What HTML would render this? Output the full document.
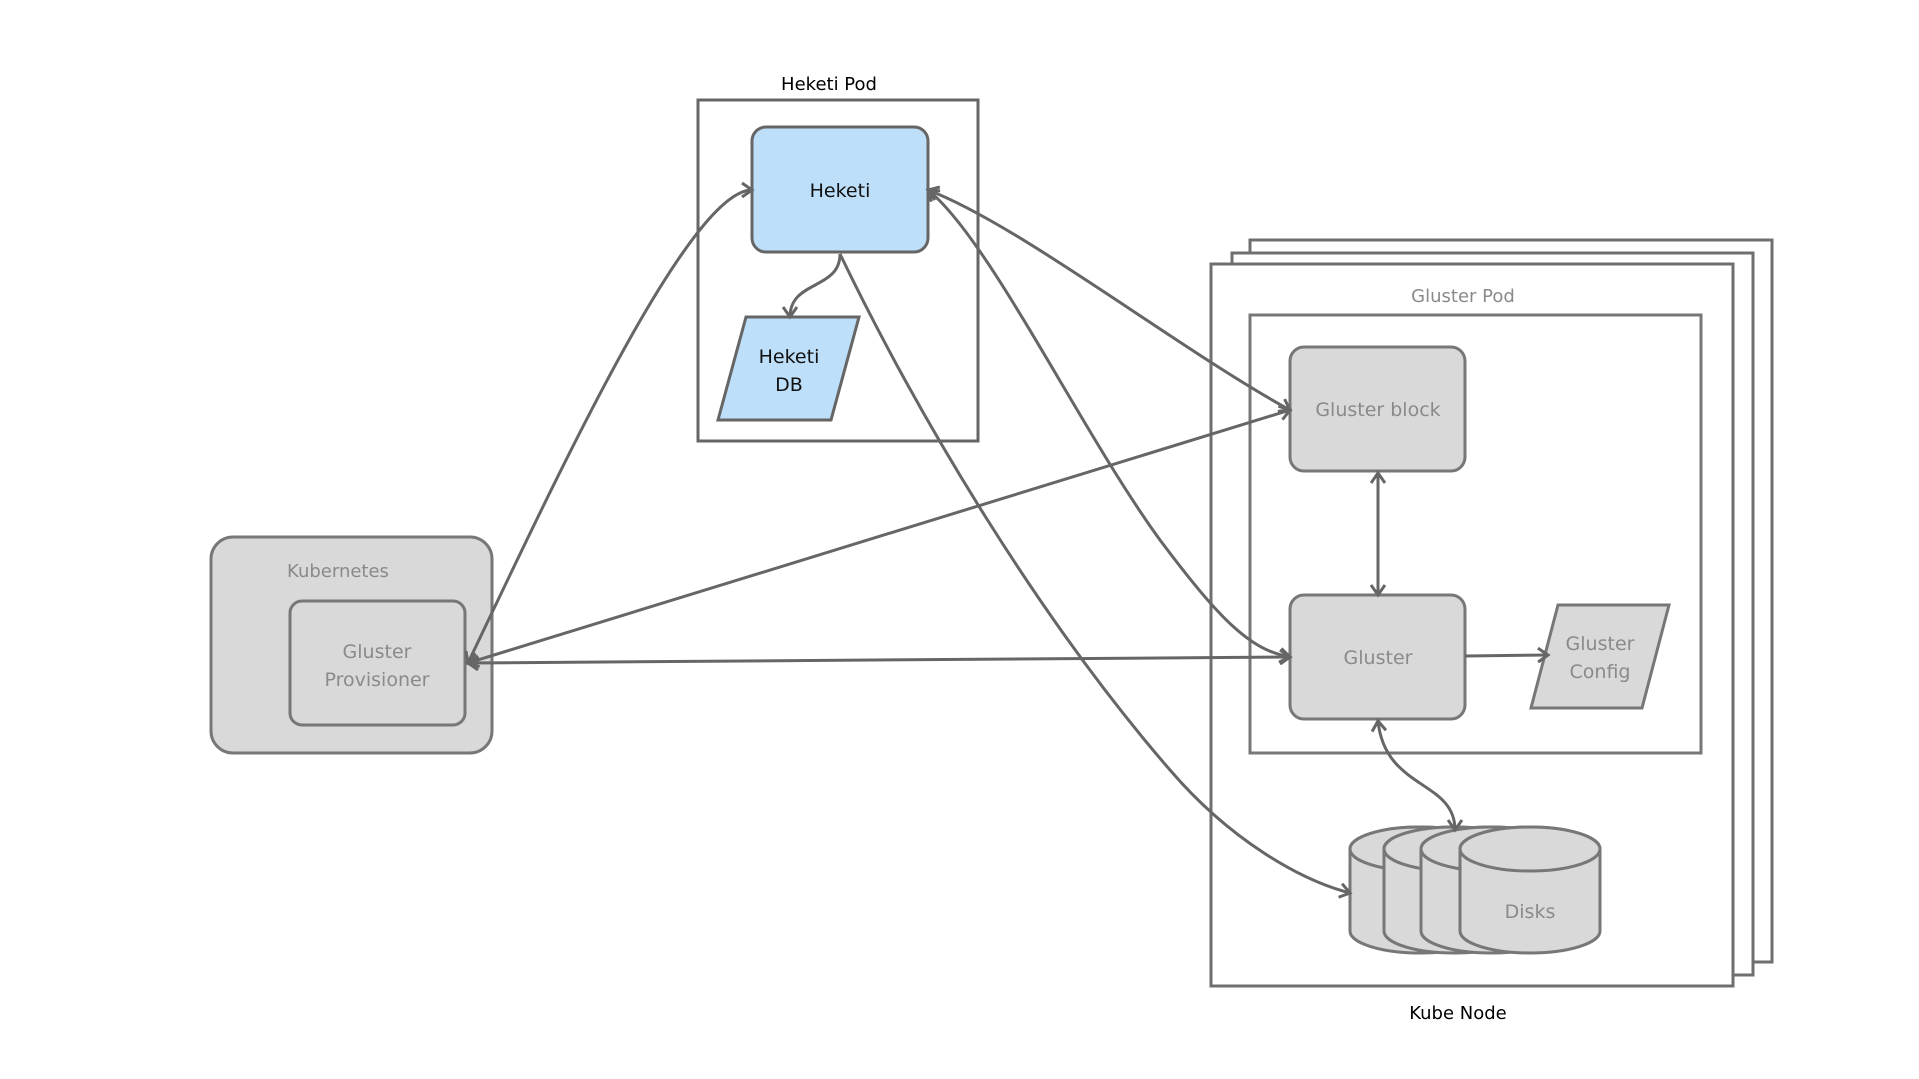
<!DOCTYPE html>
<html><head><meta charset="utf-8"><style>
html,body{margin:0;padding:0;background:#fff;width:1919px;height:1079px;overflow:hidden}
svg{display:block}
text{font-family:"DejaVu Sans","Liberation Sans",sans-serif}
</style></head><body>
<svg width="1919" height="1079" viewBox="0 0 1919 1079" xmlns="http://www.w3.org/2000/svg">
<defs>
<marker id="a" markerWidth="16" markerHeight="16" refX="13" refY="8" orient="auto-start-reverse" markerUnits="userSpaceOnUse">
<path d="M3,1 L13,8 L3,15" fill="none" stroke="#666" stroke-width="3"/>
</marker>
</defs>
<g fill="#fff" stroke="#6f6f6f" stroke-width="3">
<rect x="1250" y="240" width="522" height="722"/>
<rect x="1232" y="253" width="521" height="722"/>
<rect x="1211" y="264" width="522" height="722"/>
</g>
<text x="1463" y="302" font-size="18" fill="#8a8a8a" text-anchor="middle">Gluster Pod</text>
<rect x="1250" y="315" width="451" height="438" fill="none" stroke="#777" stroke-width="3"/>
<text x="1458" y="1019" font-size="18" fill="#000" text-anchor="middle">Kube Node</text>

<rect x="698" y="100" width="280" height="341" fill="#fff" stroke="#666" stroke-width="3"/>
<text x="829" y="90" font-size="18" fill="#000" text-anchor="middle">Heketi Pod</text>
<rect x="752" y="127" width="176" height="125" rx="14" fill="#bddff9" stroke="#666" stroke-width="3"/>
<text x="840" y="197" font-size="19" text-anchor="middle" fill="#111">Heketi</text>
<polygon points="746,317 859,317 831,420 718,420" fill="#bddff9" stroke="#666" stroke-width="3"/>
<text x="789" y="363" font-size="19" text-anchor="middle" fill="#111">Heketi</text>
<text x="789" y="391" font-size="19" text-anchor="middle" fill="#111">DB</text>

<rect x="211" y="537" width="281" height="216" rx="22" fill="#d9d9d9" stroke="#777" stroke-width="3"/>
<text x="338" y="577" font-size="18" fill="#8a8a8a" text-anchor="middle">Kubernetes</text>
<rect x="290" y="601" width="175" height="124" rx="12" fill="#d9d9d9" stroke="#777" stroke-width="3"/>
<text x="377" y="658" font-size="19" fill="#8a8a8a" text-anchor="middle">Gluster</text>
<text x="377" y="686" font-size="19" fill="#8a8a8a" text-anchor="middle">Provisioner</text>

<rect x="1290" y="347" width="175" height="124" rx="14" fill="#d9d9d9" stroke="#777" stroke-width="3"/>
<text x="1378" y="416" font-size="19" fill="#8a8a8a" text-anchor="middle">Gluster block</text>
<rect x="1290" y="595" width="175" height="124" rx="14" fill="#d9d9d9" stroke="#777" stroke-width="3"/>
<text x="1378" y="664" font-size="19" fill="#8a8a8a" text-anchor="middle">Gluster</text>
<polygon points="1558,605 1669,605 1642,708 1531,708" fill="#d9d9d9" stroke="#777" stroke-width="3"/>
<text x="1600" y="650" font-size="19" fill="#8a8a8a" text-anchor="middle">Gluster</text>
<text x="1600" y="678" font-size="19" fill="#8a8a8a" text-anchor="middle">Config</text>

<g fill="#d9d9d9" stroke="#777" stroke-width="3">
<path d="M1350,849 L1350,931 A70,22 0 0 0 1490,931 L1490,849 A70,22 0 0 0 1350,849 Z"/>
<ellipse cx="1420" cy="849" rx="70" ry="22"/>
<path d="M1384,849 L1384,931 A70,22 0 0 0 1524,931 L1524,849 A70,22 0 0 0 1384,849 Z"/>
<ellipse cx="1454" cy="849" rx="70" ry="22"/>
<path d="M1421,849 L1421,931 A70,22 0 0 0 1561,931 L1561,849 A70,22 0 0 0 1421,849 Z"/>
<ellipse cx="1491" cy="849" rx="70" ry="22"/>
<path d="M1460,849 L1460,931 A70,22 0 0 0 1600,931 L1600,849 A70,22 0 0 0 1460,849 Z"/>
<ellipse cx="1530" cy="849" rx="70" ry="22"/>
</g>
<text x="1530" y="918" font-size="19" fill="#8a8a8a" text-anchor="middle">Disks</text>

<g fill="none" stroke="#666" stroke-width="3">
<path d="M468,663 C560,470 690,190 752,190" marker-start="url(#a)" marker-end="url(#a)"/>
<path d="M468,663 L1290,410" marker-start="url(#a)" marker-end="url(#a)"/>
<path d="M468,663 L1290,657" marker-start="url(#a)" marker-end="url(#a)"/>
<path d="M928,190 C1020,225 1180,350 1290,410" marker-start="url(#a)" marker-end="url(#a)"/>
<path d="M928,190 C990,240 1080,430 1160,540 C1220,620 1250,650 1290,657" marker-start="url(#a)" marker-end="url(#a)"/>
<path d="M840,254 C840,290 790,280 790,317" marker-end="url(#a)"/>
<path d="M840,254 C920,420 1040,620 1170,770 C1230,840 1300,880 1350,893" marker-end="url(#a)"/>
<path d="M1378,473 L1378,595" marker-start="url(#a)" marker-end="url(#a)"/>
<path d="M1465,656 L1548,655" marker-end="url(#a)"/>
<path d="M1378,721 C1385,790 1455,780 1455,830" marker-start="url(#a)" marker-end="url(#a)"/>
</g>
</svg>
</body></html>
